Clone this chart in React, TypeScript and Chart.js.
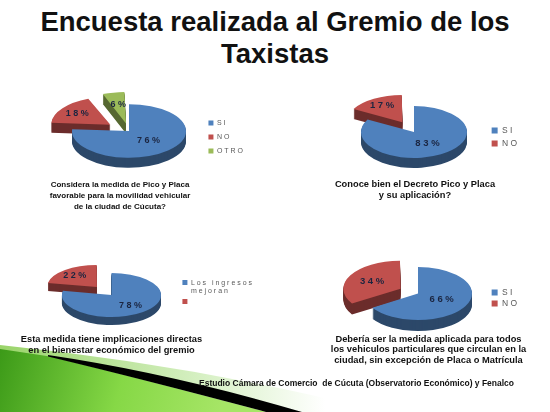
import React, { useEffect, useRef } from 'react';
import { Chart, registerables } from 'chart.js';

Chart.register(...registerables);

const TITLE_LINES = ['Encuesta realizada al Gremio de los', 'Taxistas'];
const FOOTER = 'Estudio Cámara de Comercio  de Cúcuta (Observatorio Económico) y Fenalco';

const q1Labels = ['SI', 'NO', 'OTRO'];
const q1Values = [76, 18, 6];
const q1Caption = ['Considera la medida de Pico y Placa', 'favorable para la movilidad vehicular', 'de la ciudad de Cúcuta?'];

const q2Labels = ['SI', 'NO'];
const q2Values = [83, 17];
const q2Caption = ['Conoce bien el Decreto Pico y Placa', 'y su aplicación?'];

const q3Labels: any[] = [['Los ingresos', 'mejoran'], ''];
const q3Values = [78, 22];
const q3Caption = ['Esta medida tiene implicaciones directas', 'en el bienestar económico del gremio'];

const q4Labels = ['SI', 'NO'];
const q4Values = [66, 34];
const q4Caption = ['Debería ser la medida aplicada para todos', 'los vehiculos particulares que circulan en la', 'ciudad, sin excepción de Placa o Matrícula'];

const COLORS = ['#4f81bd', '#c0504d', '#9bbb59'];
const FONT = '"Liberation Sans", Arial, sans-serif';

const spaced = (s: string) => s.split('').join(' ');

type PieProps = {
  labels: any[];
  values: number[];
  box: { left: number; top: number; width: number; height: number };
  center: { x: number; y: number };
  radius: number;
  k: number;
  depth: number;
  explode: number[];
  labelFrac: [number, number];
  labelSize: number;
  legendSize: number;
  legendBox: number;
  legendPad: number;
};

function Pie3D(p: PieProps) {
  const ref = useRef<HTMLCanvasElement>(null);
  useEffect(() => {
    const canvas = ref.current!;
    const tx = p.center.x - p.box.left;
    const ty = p.center.y - p.box.top;
    let active = false;
    const plugin: any = {
      id: 'pie3d',
      beforeDatasetsDraw(chart: any) {
        const arcs = chart.getDatasetMeta(0).data as any[];
        if (!arcs.length) return;
        const ctx = chart.ctx as CanvasRenderingContext2D;
        const ox = arcs[0].x;
        const oy = arcs[0].y;
        const squish = (d: number) => {
          ctx.translate(tx, ty + d);
          ctx.scale(1, p.k);
          ctx.translate(-ox, -oy);
        };
        for (let d = p.depth; d >= 1; d--) {
          ctx.save();
          squish(d);
          (ctx as any).filter = 'brightness(0.56)';
          arcs.forEach((a) => a.draw(ctx));
          ctx.restore();
        }
        ctx.save();
        squish(0);
        active = true;
      },
      afterDatasetsDraw(chart: any) {
        if (!active) return;
        active = false;
        const ctx = chart.ctx as CanvasRenderingContext2D;
        ctx.restore();
        const arcs = chart.getDatasetMeta(0).data as any[];
        ctx.save();
        ctx.font = `bold ${p.labelSize}px ${FONT}`;
        ctx.fillStyle = '#1b2540';
        ctx.textAlign = 'center';
        ctx.textBaseline = 'middle';
        arcs.forEach((a, i) => {
          const mid = (a.startAngle + a.endAngle) / 2;
          const shift = (a.options.offset || 0) / 4;
          const dist = shift + a.outerRadius * (i === 0 ? p.labelFrac[0] : p.labelFrac[1]);
          const x = tx + Math.cos(mid) * dist;
          const y = ty + Math.sin(mid) * dist * p.k;
          ctx.fillText(`${spaced(String(p.values[i]))} %`, x, y);
        });
        ctx.restore();
      },
    };
    const ov: any = (Chart as any).overrides;
    const baseGen = (ov.pie && ov.pie.plugins.legend.labels.generateLabels) || ov.doughnut.plugins.legend.labels.generateLabels;
    const chart = new Chart(canvas, {
      type: 'pie',
      data: {
        labels: p.labels,
        datasets: [
          {
            data: p.values,
            backgroundColor: COLORS.slice(0, p.values.length),
            borderWidth: 0,
            offset: p.explode.map((e) => e * 4),
            radius: p.radius,
            clip: false,
            hoverOffset: 0,
          } as any,
        ],
      },
      options: {
        responsive: false,
        animation: false,
        events: [],
        layout: { padding: 0 },
        plugins: {
          legend: {
            position: 'right',
            labels: {
              boxWidth: p.legendBox,
              boxHeight: p.legendBox,
              padding: p.legendPad,
              color: '#595959',
              font: { family: FONT, size: p.legendSize },
              generateLabels: (c: any) =>
                baseGen(c).map((it: any) => ({
                  ...it,
                  text: Array.isArray(it.text) ? it.text.map(spaced) : spaced(String(it.text)),
                  lineWidth: 0,
                  strokeStyle: 'rgba(0,0,0,0)',
                })),
            },
          },
          tooltip: { enabled: false },
        },
      } as any,
      plugins: [plugin],
    });
    return () => chart.destroy();
  }, []);
  return (
    <canvas
      ref={ref}
      width={p.box.width}
      height={p.box.height}
      style={{ position: 'absolute', left: p.box.left, top: p.box.top, width: p.box.width, height: p.box.height }}
    />
  );
}

function Caption({ lines, cx, top, size, lh }: { lines: string[]; cx: number; top: number; size: number; lh: number }) {
  return (
    <div
      style={{
        position: 'absolute',
        left: cx - 150,
        top,
        width: 300,
        textAlign: 'center',
        fontFamily: FONT,
        fontWeight: 'bold',
        fontSize: size,
        lineHeight: `${lh}px`,
        color: '#111',
        whiteSpace: 'nowrap',
      }}
    >
      {lines.map((l, i) => (
        <div key={i}>{l}</div>
      ))}
    </div>
  );
}

export default function App() {
  return (
    <div style={{ position: 'absolute', left: 0, top: 0, width: 550, height: 412, background: '#fff', overflow: 'hidden' }}>
      <svg width={550} height={412} style={{ position: 'absolute', left: 0, top: 0 }}>
        <defs>
          <linearGradient id="pale" x1="0" y1="0" x2="325" y2="0" gradientUnits="userSpaceOnUse">
            <stop offset="0" stopColor="#9ad46a" />
            <stop offset="0.6" stopColor="#d4efc0" />
            <stop offset="1" stopColor="#ffffff" />
          </linearGradient>
          <linearGradient id="grn" x1="0" y1="350" x2="220" y2="412" gradientUnits="userSpaceOnUse">
            <stop offset="0" stopColor="#3c9a18" />
            <stop offset="0.55" stopColor="#86d846" />
            <stop offset="1" stopColor="#a6e566" />
          </linearGradient>
        </defs>
        <path d="M0,345 Q165,362 325,398 L325,412 L0,412 Z" fill="url(#pale)" />
        <path d="M0,349 L50,356.5 Q150,381 266,412 L0,412 Z" fill="url(#grn)" />
        <path d="M48,355 Q170,373 302,412 L266,412 Q150,381 48,356.5 Z" fill="#000" />
      </svg>

      <div
        style={{
          position: 'absolute',
          left: 0,
          top: 6,
          width: 550,
          textAlign: 'center',
          fontFamily: FONT,
          fontWeight: 'bold',
          fontSize: 27.5,
          lineHeight: '32px',
          color: '#111',
        }}
      >
        {TITLE_LINES.map((l, i) => (
          <div key={i}>{l}</div>
        ))}
      </div>

      <Pie3D
        labels={q1Labels}
        values={q1Values}
        box={{ left: 20, top: 82, width: 233, height: 110 }}
        center={{ x: 129, y: 131 }}
        radius={57}
        k={0.47}
        depth={10}
        explode={[0, 23, 16]}
        labelFrac={[0.5, 0.72]}
        labelSize={9}
        legendSize={7}
        legendBox={5}
        legendPad={7}
      />
      <Pie3D
        labels={q2Labels}
        values={q2Values}
        box={{ left: 300, top: 82, width: 227, height: 110 }}
        center={{ x: 414, y: 132 }}
        radius={53}
        k={0.49}
        depth={10}
        explode={[0, 23]}
        labelFrac={[0.5, 0.75]}
        labelSize={9.5}
        legendSize={8.5}
        legendBox={6}
        legendPad={4.5}
      />
      <Pie3D
        labels={q3Labels}
        values={q3Values}
        box={{ left: 10, top: 237, width: 252, height: 110 }}
        center={{ x: 111.5, y: 295 }}
        radius={49.5}
        k={0.445}
        depth={8}
        explode={[0, 23]}
        labelFrac={[0.6, 0.7]}
        labelSize={9}
        legendSize={7}
        legendBox={5}
        legendPad={2}
      />
      <Pie3D
        labels={q4Labels}
        values={q4Values}
        box={{ left: 300, top: 243, width: 227, height: 110 }}
        center={{ x: 418, y: 293.5 }}
        radius={54}
        k={0.49}
        depth={11}
        explode={[0, 20]}
        labelFrac={[0.5, 0.6]}
        labelSize={9.5}
        legendSize={8.5}
        legendBox={6}
        legendPad={2.5}
      />

      <Caption lines={q1Caption} cx={120} top={178.5} size={8} lh={11} />
      <Caption lines={q2Caption} cx={415} top={178.5} size={9.3} lh={11} />
      <Caption lines={q3Caption} cx={111.5} top={333.5} size={9.3} lh={11} />
      <Caption lines={q4Caption} cx={428.5} top={333.75} size={9.3} lh={10.5} />

      <div
        style={{
          position: 'absolute',
          left: 199,
          top: 377,
          fontFamily: FONT,
          fontWeight: 'bold',
          fontSize: 8.5,
          lineHeight: '12px',
          color: '#111',
          whiteSpace: 'pre',
        }}
      >
        {FOOTER}
      </div>
    </div>
  );
}
